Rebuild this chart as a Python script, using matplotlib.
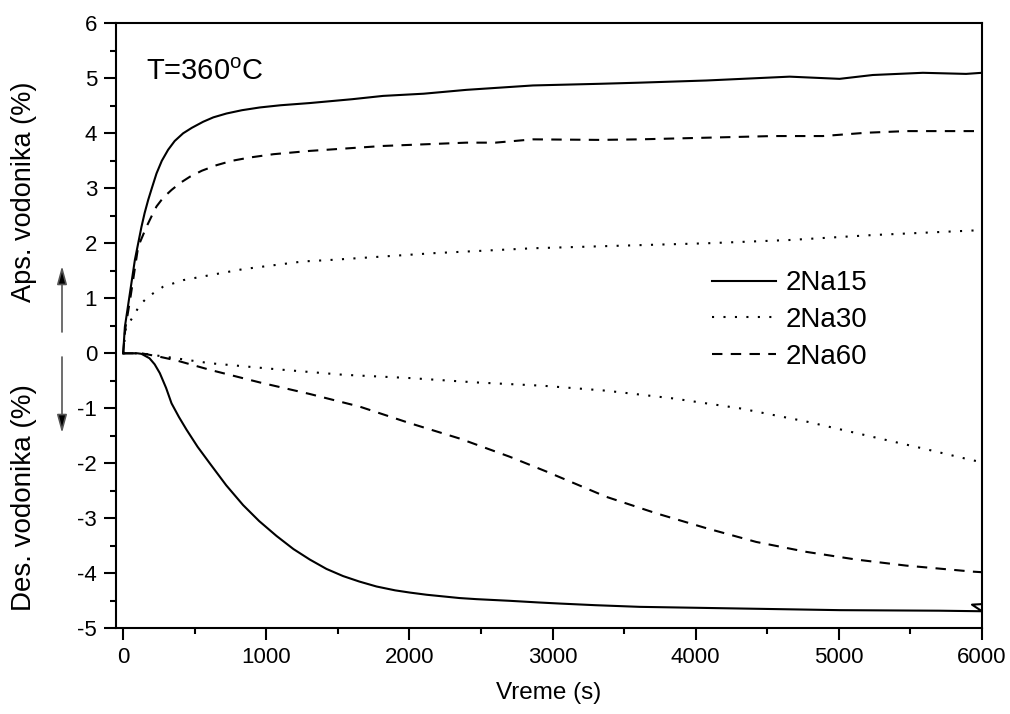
import matplotlib
matplotlib.use("Agg")
import matplotlib.pyplot as plt
from matplotlib.ticker import MultipleLocator

plt.rcParams['font.family'] = ['Liberation Sans', 'DejaVu Sans']
plt.rcParams['axes.unicode_minus'] = False

# Absorption (positive) and desorption (negative) of hydrogen vs. time
t_abs_15 = [0, 12, 47, 82, 128, 150, 175, 200, 233, 270, 314, 360, 419, 480, 559, 630, 722, 830,
            955, 1100, 1304, 1600, 1816, 2100, 2398, 2863, 3329, 3600, 4074, 4656, 5005, 5237,
            5587, 5889, 6000]
y_abs_15 = [0, 0.48, 1.09, 1.70, 2.30, 2.55, 2.79, 3.00, 3.27, 3.50, 3.70, 3.86, 4.00, 4.10, 4.21,
            4.29, 4.36, 4.42, 4.47, 4.51, 4.55, 4.62, 4.68, 4.72, 4.79, 4.87, 4.90, 4.92, 4.96,
            5.03, 4.99, 5.06, 5.10, 5.08, 5.10]

t_abs_30 = [0, 19, 70, 117, 175, 279, 419, 605, 838, 1257, 1467, 2165, 2863, 3655, 4074,
            4656, 5237, 6000]
y_abs_30 = [0, 0.46, 0.67, 0.88, 1.03, 1.21, 1.33, 1.42, 1.53, 1.67, 1.70, 1.82, 1.91, 1.97, 2.00,
            2.06, 2.15, 2.24]

t_abs_60 = [0, 15, 50, 105, 163, 200, 233, 280, 338, 400, 466, 550, 652, 760, 885, 1050, 1304,
            1816, 2398, 2600, 2863, 3329, 3608, 4074, 4539, 4888, 5191, 5470, 6000]
y_abs_60 = [0, 0.45, 1.00, 1.94, 2.30, 2.50, 2.67, 2.83, 2.97, 3.10, 3.21, 3.32, 3.42, 3.50, 3.56,
            3.62, 3.68, 3.77, 3.83, 3.83, 3.89, 3.88, 3.89, 3.92, 3.95, 3.95, 4.01, 4.04, 4.04]

t_des_15 = [0, 100, 128, 184, 220, 256, 300, 338, 390, 443, 520, 605, 720, 838, 950, 1071, 1190,
            1304, 1420, 1536, 1650, 1770, 1900, 2002, 2120, 2235, 2350, 2468, 2700, 2900, 3050,
            3300, 3608, 4307, 5005, 5703, 6000, 5930, 6000]
y_des_15 = [0, 0, -0.01, -0.09, -0.20, -0.36, -0.63, -0.91, -1.16, -1.39, -1.70, -2.00, -2.40,
            -2.76, -3.05, -3.32, -3.56, -3.75, -3.92, -4.05, -4.15, -4.24, -4.31, -4.35, -4.39,
            -4.42, -4.45, -4.47, -4.50, -4.53, -4.55, -4.58, -4.61, -4.64, -4.67, -4.68, -4.69,
            -4.57, -4.56]

t_des_30 = [0, 128, 605, 1071, 1536, 2002, 2468, 2933, 3376, 3841, 4307, 4772, 5237, 5587, 5925, 6000]
y_des_30 = [0, 0, -0.18, -0.29, -0.39, -0.45, -0.53, -0.59, -0.68, -0.82, -1.00, -1.24, -1.52, -1.73,
            -1.94, -1.98]

t_des_60 = [0, 128, 250, 373, 605, 955, 1304, 1653, 2002, 2351, 2700, 2957, 3376, 3725, 4074, 4423,
            4772, 5121, 5470, 5936, 6000]
y_des_60 = [0, 0, -0.06, -0.13, -0.30, -0.53, -0.74, -0.97, -1.27, -1.55, -1.88, -2.15, -2.61, -2.91,
            -3.18, -3.43, -3.61, -3.75, -3.86, -3.97, -3.98]

labels = ['2Na15', '2Na30', '2Na60']

fig = plt.figure(figsize=(10.1, 7.14), dpi=100)
ax = fig.add_axes([116 / 1010, 1 - 628.3 / 714, (982 - 116) / 1010, (628.3 - 23.3) / 714])

lw = 1.5
solid = dict(color='black', lw=lw, linestyle='-')
dotted = dict(color='black', lw=lw, linestyle=(0, (1, 4.5)))
dashed = dict(color='black', lw=lw, linestyle=(0, (5, 4)))

l15, = ax.plot(t_abs_15, y_abs_15, **solid)
ax.plot(t_des_15, y_des_15, **solid)
l30, = ax.plot(t_abs_30, y_abs_30, **dotted)
ax.plot(t_des_30, y_des_30, **dotted)
l60, = ax.plot(t_abs_60, y_abs_60, **dashed)
ax.plot(t_des_60, y_des_60, **dashed)

ax.set_xlim(-50, 6000)
ax.set_ylim(-5, 6)
ax.xaxis.set_major_locator(MultipleLocator(1000))
ax.xaxis.set_minor_locator(MultipleLocator(500))
ax.yaxis.set_major_locator(MultipleLocator(1))
ax.yaxis.set_minor_locator(MultipleLocator(0.5))
ax.tick_params(which='both', direction='out', top=False, right=False, width=1.5,
               labelsize=16, colors='black')
ax.tick_params(which='major', length=8.5, pad=5)
ax.tick_params(which='minor', length=4.5)
for s in ax.spines.values():
    s.set_linewidth(1.5)

ax.set_xlabel('Vreme (s)', fontsize=17.5, labelpad=10)

leg = fig.legend([l15, l30, l60], labels, loc='center left',
                 bbox_to_anchor=(712 / 1010, 1 - 320 / 714), bbox_transform=fig.transFigure,
                 frameon=False, fontsize=20, handlelength=2.3, handletextpad=0.36,
                 labelspacing=0.38, borderpad=0, borderaxespad=0)

fig.text(146 / 1010, 1 - 72 / 714, r'T=360$^\mathregular{o}$C', fontsize=21, va='center', ha='left')

fig.text(24 / 1010, 1 - 192 / 714, 'Aps. vodonika (%)', rotation=90, fontsize=19.5,
         ha='center', va='center')
fig.text(24 / 1010, 1 - 498 / 714, 'Des. vodonika (%)', rotation=90, fontsize=20,
         ha='center', va='center')

arrow_kw = dict(arrowstyle='-|>,head_length=1.1,head_width=0.3', color='#555555', lw=1.2,
                shrinkA=0, shrinkB=0, fc='black', ec='#555555')
ax.annotate('', xy=(62 / 1010, 1 - 266 / 714), xytext=(62 / 1010, 1 - 332 / 714),
            xycoords='figure fraction', textcoords='figure fraction',
            arrowprops=arrow_kw, annotation_clip=False)
ax.annotate('', xy=(62 / 1010, 1 - 433 / 714), xytext=(62 / 1010, 1 - 357 / 714),
            xycoords='figure fraction', textcoords='figure fraction',
            arrowprops=arrow_kw, annotation_clip=False)

fig.savefig('out.png', dpi=100)
